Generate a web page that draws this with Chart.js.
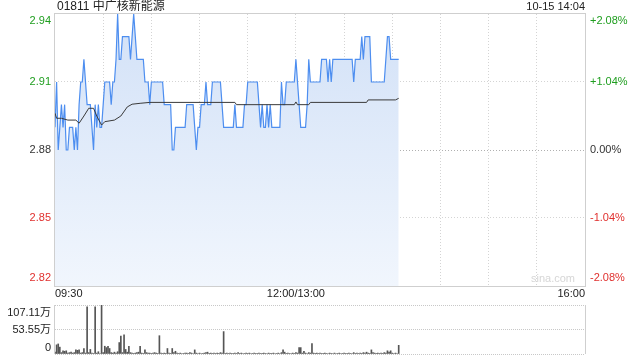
<!DOCTYPE html>
<html>
<head>
<meta charset="utf-8">
<script src="https://cdn.jsdelivr.net/npm/chart.js@4"></script>
<style>
  html, body { margin: 0; padding: 0; background: #fff; }
  #wrap { position: relative; width: 640px; height: 360px; }
  #priceChart { position: absolute; left: 0; top: 0; }
  #volChart { position: absolute; left: 0; top: 300px; }
</style>
</head>
<body>
<div id="wrap">
  <canvas id="priceChart" width="640" height="300"></canvas>
  <canvas id="volChart" width="640" height="60"></canvas>
</div>
<script>
/* ========= Data ========= */
const STOCK_TITLE = "01811 中广核新能源";
const STAMP = "10-15 14:04";
const PREV_CLOSE = 2.88;

// minutes since 09:30, lunch break removed (0..330)
const xGridMins = [0, 30, 60, 90, 120, 150, 180, 210, 240, 270, 300, 330];
const timeTickMins = [0, 150, 330];
const timeTickLabels = ["09:30", "12:00/13:00", "16:00"];

const priceTicks = [2.82, 2.85, 2.88, 2.91, 2.94];
const pctLabels = ["-2.08%", "-1.04%", "0.00%", "+1.04%", "+2.08%"];

// last price, one per minute from 09:30
const prices = [
  2.89, 2.91, 2.88, 2.89, 2.90, 2.89, 2.90, 2.88, 2.88, 2.89,
  2.89, 2.89, 2.88, 2.89, 2.88, 2.90, 2.91, 2.91, 2.92, 2.91,
  2.90, 2.90, 2.90, 2.89, 2.88, 2.90, 2.89, 2.90, 2.89, 2.89,
  2.90, 2.91, 2.91, 2.91, 2.91, 2.90, 2.91, 2.91, 2.92, 2.94,
  2.92, 2.92, 2.93, 2.93, 2.93, 2.93, 2.93, 2.92, 2.93, 2.94,
  2.93, 2.92, 2.92, 2.92, 2.92, 2.92, 2.91, 2.91, 2.91, 2.90,
  2.91, 2.91, 2.91, 2.91, 2.91, 2.91, 2.91, 2.91, 2.90, 2.90,
  2.90, 2.90, 2.90, 2.88, 2.88, 2.89, 2.89, 2.89, 2.89, 2.89,
  2.89, 2.89, 2.90, 2.90, 2.90, 2.90, 2.90, 2.89, 2.88, 2.89,
  2.89, 2.90, 2.90, 2.90, 2.91, 2.90, 2.90, 2.90, 2.91, 2.91,
  2.91, 2.91, 2.91, 2.91, 2.90, 2.89, 2.89, 2.89, 2.89, 2.89,
  2.89, 2.89, 2.90, 2.89, 2.89, 2.89, 2.89, 2.89, 2.90, 2.90,
  2.91, 2.91, 2.91, 2.91, 2.91, 2.91, 2.91, 2.90, 2.89, 2.90,
  2.89, 2.89, 2.90, 2.89, 2.90, 2.89, 2.89, 2.89, 2.89, 2.89,
  2.89, 2.91, 2.90, 2.90, 2.91, 2.91, 2.91, 2.91, 2.91, 2.91,
  2.92, 2.91, 2.90, 2.89, 2.89, 2.89, 2.89, 2.90, 2.92, 2.91,
  2.91, 2.91, 2.91, 2.91, 2.91, 2.91, 2.92, 2.92, 2.92, 2.92,
  2.91, 2.92, 2.91, 2.92, 2.92, 2.92, 2.92, 2.92, 2.92, 2.92,
  2.92, 2.92, 2.92, 2.92, 2.92, 2.92, 2.91, 2.92, 2.92, 2.92,
  2.92, 2.93, 2.92, 2.93, 2.93, 2.93, 2.93, 2.91, 2.91, 2.91,
  2.91, 2.91, 2.91, 2.91, 2.91, 2.91, 2.92, 2.93, 2.93, 2.92,
  2.92, 2.92, 2.92, 2.92, 2.92
];

// average price line, read at its turning points
const avgMins = [0, 1, 4, 8, 13, 15, 18, 21, 24, 26, 29, 31, 37, 41, 45, 48, 53, 59, 112, 113, 149, 150, 151, 152, 158, 159, 194, 195, 212, 214];
const avgVals = [2.8962, 2.894, 2.894, 2.8932, 2.8932, 2.8918, 2.895, 2.8984, 2.8984, 2.895, 2.891, 2.8925, 2.8932, 2.895, 2.899, 2.9002, 2.9006, 2.901, 2.901, 2.900, 2.900, 2.9012, 2.900, 2.900, 2.900, 2.901, 2.901, 2.9021, 2.9021, 2.9028];

// volume per minute, in 万 shares
const volTicks = [0, 53.55, 107.11];
const volTickLabels = ["0", "53.55万", "107.11万"];
const volumes = [
  4, 20, 22, 15, 3, 7, 6, 7, 2, 3,
  4, 2, 3, 9, 8, 9, 2, 3, 12, 2,
  103, 3, 10, 2, 1, 103, 2, 5, 1, 107,
  3, 17, 14, 17, 12, 3, 2, 4, 2, 5,
  25, 39, 3, 42, 10, 4, 17, 3, 2, 1,
  2, 3, 4, 17, 2, 1, 9, 3, 2, 2,
  1, 2, 3, 2, 1, 40, 2, 1, 2, 1,
  12, 2, 1, 12, 3, 6, 2, 1, 2, 1,
  1, 2, 2, 1, 3, 2, 1, 9, 2, 1,
  2, 1, 1, 2, 3, 4, 1, 2, 1, 2,
  1, 2, 1, 3, 2, 49, 1, 2, 1, 2,
  1, 1, 2, 1, 3, 1, 2, 1, 1, 2,
  1, 2, 1, 1, 2, 1, 1, 2, 1, 1,
  2, 1, 1, 2, 1, 1, 2, 1, 1, 2,
  1, 3, 9, 4, 1, 2, 1, 1, 2, 1,
  3, 2, 14, 14, 2, 6, 2, 1, 3, 2,
  23, 2, 1, 2, 1, 2, 1, 1, 2, 1,
  1, 2, 1, 1, 2, 1, 1, 2, 1, 1,
  2, 1, 1, 2, 1, 1, 3, 1, 2, 1,
  2, 1, 3, 2, 4, 2, 1, 9, 3, 2,
  1, 2, 1, 2, 1, 3, 2, 7, 4, 7,
  2, 1, 2, 1, 19
];

/* ========= Look ========= */
const FONT = '"Liberation Sans", Arial, "Noto Sans CJK SC", sans-serif';
const UP = "#1f9e1f";
const DOWN = "#e0302e";
const FLAT = "#333";
const FRAME = "#cfcfcf";

function colorFor(v) {
  if (Math.abs(v - PREV_CLOSE) < 1e-6) return FLAT;
  return v > PREV_CLOSE ? UP : DOWN;
}

/* ========= Price panel ========= */
const priceText = {
  id: "priceText",
  afterDraw(chart) {
    const { ctx, chartArea: a, scales: { x, y } } = chart;
    ctx.save();
    ctx.strokeStyle = FRAME;
    ctx.lineWidth = 1;
    ctx.strokeRect(Math.round(a.left) - 0.5, Math.round(a.top) - 0.5, Math.round(a.right - a.left) + 1, Math.round(a.bottom - a.top) + 1);

    ctx.textBaseline = "middle";
    ctx.font = "12px " + FONT;
    ctx.fillStyle = "#222";
    ctx.textAlign = "left";
    ctx.fillText(STOCK_TITLE, a.left + 2, 7);
    ctx.font = "11px " + FONT;
    ctx.textAlign = "right";
    ctx.fillText(STAMP, a.right, 7);

    // price and percent labels, ends pulled inside the frame
    priceTicks.forEach((v, i) => {
      let py = y.getPixelForValue(v);
      if (i === 0) py -= 8;
      if (i === priceTicks.length - 1) py += 7;
      ctx.fillStyle = colorFor(v);
      ctx.textAlign = "right";
      ctx.fillText(v.toFixed(2), a.left - 4, py);
      ctx.textAlign = "left";
      ctx.fillText(pctLabels[i], a.right + 5, py);
    });

    // time axis
    ctx.fillStyle = "#222";
    timeTickMins.forEach((m, i) => {
      ctx.textAlign = i === 0 ? "left" : (i === timeTickMins.length - 1 ? "right" : "center");
      ctx.fillText(timeTickLabels[i], x.getPixelForValue(m), a.bottom + 8);
    });

    ctx.fillStyle = "#d6d6d6";
    ctx.textAlign = "right";
    ctx.fillText("sina.com", a.right - 10, a.bottom - 7);
    ctx.restore();
  }
};

const priceCtx = document.getElementById("priceChart").getContext("2d");
new Chart(priceCtx, {
  type: "line",
  data: {
    datasets: [
      {
        label: "均价",
        data: avgMins.map((m, i) => ({ x: m, y: avgVals[i] })),
        borderColor: "#3a3a3a",
        borderWidth: 1,
        pointRadius: 0,
        fill: false,
        tension: 0
      },
      {
        label: "价格",
        data: prices.map((p, i) => ({ x: i, y: p })),
        borderColor: "#4d8ef0",
        borderWidth: 1.2,
        pointRadius: 0,
        tension: 0,
        fill: "start",
        backgroundColor: (c) => {
          const a = c.chart.chartArea;
          if (!a) return "#dde8f8";
          const g = c.chart.ctx.createLinearGradient(0, a.top, 0, a.bottom);
          g.addColorStop(0, "#d2e1f7");
          g.addColorStop(1, "#f1f6fd");
          return g;
        }
      }
    ]
  },
  options: {
    responsive: false,
    animation: false,
    layout: { padding: { left: 55, right: 55, top: 14, bottom: 14 } },
    plugins: { legend: { display: false }, tooltip: { enabled: false } },
    scales: {
      x: {
        type: "linear", min: 0, max: 330,
        afterBuildTicks: s => { s.ticks = xGridMins.map(v => ({ value: v })); },
        ticks: { display: false },
        grid: {
          drawTicks: false,
          color: c => (c.tick.value === 0 || c.tick.value === 330) ? "rgba(0,0,0,0)" : "#d4d4d4"
        },
        border: { display: false, dash: [1, 2] }
      },
      y: {
        type: "linear", min: 2.82, max: 2.94,
        afterBuildTicks: s => { s.ticks = priceTicks.map(v => ({ value: v })); },
        ticks: { display: false },
        grid: {
          drawTicks: false,
          color: c => {
            const v = c.tick.value;
            if (v === 2.82 || v === 2.94) return "rgba(0,0,0,0)";
            return Math.abs(v - PREV_CLOSE) < 1e-6 ? "#b0b0b0" : "#d4d4d4";
          }
        },
        border: { display: false, dash: [1, 2] }
      }
    }
  },
  plugins: [priceText]
});

/* ========= Volume panel ========= */
const volText = {
  id: "volText",
  afterDraw(chart) {
    const { ctx, chartArea: a, scales: { y } } = chart;
    ctx.save();
    ctx.strokeStyle = FRAME;
    ctx.lineWidth = 1;
    ctx.beginPath();
    ctx.moveTo(Math.round(a.left) - 0.5, a.top);
    ctx.lineTo(Math.round(a.left) - 0.5, a.bottom);
    ctx.moveTo(Math.round(a.right) + 0.5, a.top);
    ctx.lineTo(Math.round(a.right) + 0.5, a.bottom);
    ctx.stroke();

    ctx.font = "11px " + FONT;
    ctx.fillStyle = "#222";
    ctx.textAlign = "right";
    ctx.textBaseline = "middle";
    volTicks.forEach((v, i) => {
      let py = y.getPixelForValue(v);
      if (i === 0) py -= 6;
      if (i === volTicks.length - 1) py += 8;
      ctx.fillText(volTickLabels[i], a.left - 4, py);
    });
    ctx.restore();
  }
};

const volCtx = document.getElementById("volChart").getContext("2d");
new Chart(volCtx, {
  type: "bar",
  data: {
    datasets: [{
      label: "成交量",
      data: volumes.map((v, i) => ({ x: i, y: v })),
      backgroundColor: "#555",
      barThickness: 1
    }]
  },
  options: {
    responsive: false,
    animation: false,
    layout: { padding: { left: 55, right: 55, top: 5, bottom: 6 } },
    plugins: { legend: { display: false }, tooltip: { enabled: false } },
    scales: {
      x: {
        type: "linear", min: 0, max: 330, offset: false,
        ticks: { display: false },
        grid: { display: false, drawTicks: false, offset: false },
        border: { display: false }
      },
      y: {
        type: "linear", min: 0, max: 107.11,
        afterBuildTicks: s => { s.ticks = volTicks.map(v => ({ value: v })); },
        ticks: { display: false },
        grid: { drawTicks: false, color: "#c8c8c8" },
        border: { display: false, dash: [1, 1] }
      }
    }
  },
  plugins: [volText]
});
</script>
</body>
</html>
